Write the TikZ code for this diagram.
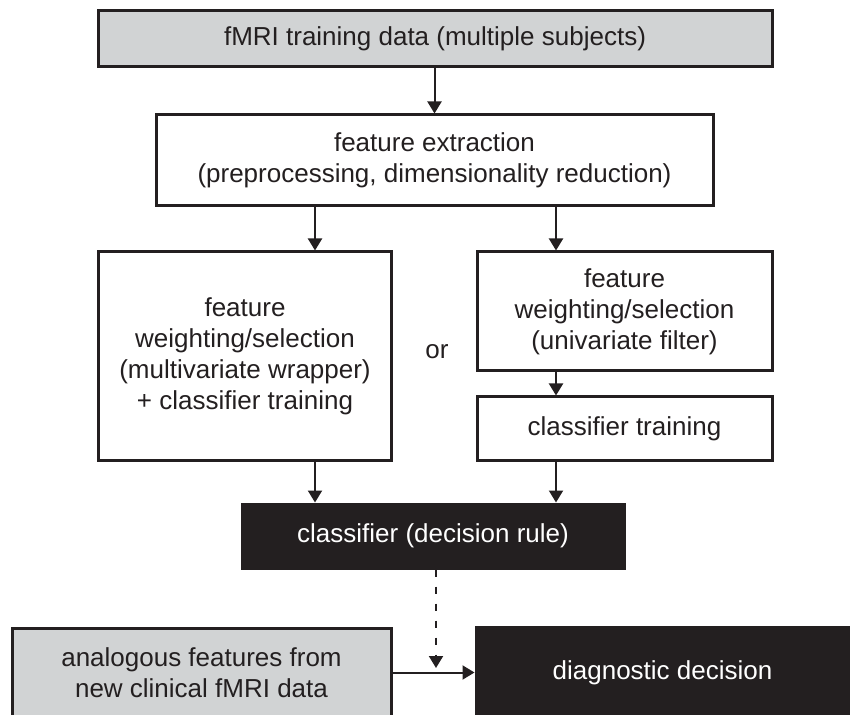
\documentclass[tikz,border=0pt]{standalone}
\usepackage{fontspec}
\setmainfont{Liberation Sans}
\usepackage{tikz}
\usetikzlibrary{arrows.meta,calc}
\definecolor{ink}{HTML}{231F20}
\definecolor{panelgray}{HTML}{D1D3D4}
\tikzset{>={Triangle[length=6pt,width=7pt]}}
\tikzset{box/.style={draw=ink,line width=1.5pt,fill=white,align=center,inner sep=0pt,text=ink},
  graybox/.style={box,fill=panelgray},
  blackbox/.style={box,fill=ink,text=white},
  flow/.style={draw=ink,line width=1pt,->}}

\begin{document}
\begin{tikzpicture}[x=0.5pt,y=-0.5pt,font=\fontsize{13}{15.5}\selectfont]
    \clip (0,0) rectangle (850,715);
    \node[graybox,minimum width=337pt,minimum height=28pt] (data) at (435,39) {fMRI training data (multiple subjects)};
    \node[box,minimum width=278.5pt,minimum height=45.5pt] (extract) at (434.5,160.5) {feature extraction\\(preprocessing, dimensionality reduction)};
    \node[box,minimum width=146.5pt,minimum height=104pt] (wrapper) at (245,356) {feature\\weighting/selection\\(multivariate wrapper)\\+ classifier training};
    \node[box,minimum width=147.5pt,minimum height=59.5pt] (filter) at (624.5,311.5) {feature\\weighting/selection\\(univariate filter)};
    \node[box,minimum width=147.5pt,minimum height=31.5pt] (train) at (624.5,428.5) {classifier training};
    \node[text=ink] (or) at (437,352) {or};
    \node[blackbox,minimum width=191pt,minimum height=32pt] (rule) at (433,536) {classifier (decision rule)};
    \node[graybox,minimum width=189.5pt,minimum height=44.5pt] (newdata) at (201.5,672.5) {analogous features from\\new clinical fMRI data};
    \node[blackbox,minimum width=186.5pt,minimum height=45.5pt] (decision) at (662.5,672.5) {diagnostic decision};
    \coordinate (l) at (315,0);
    \coordinate (r) at (556,0);
    \coordinate (hit) at (436,668);
    \draw[flow] (data.south -| extract.north) -- (extract.north);
    \draw[flow] (extract.south -| l) -- (wrapper.north -| l);
    \draw[flow] (extract.south -| r) -- (filter.north -| r);
    \draw[flow] (filter.south -| r) -- (train.north -| r);
    \draw[flow] (wrapper.south -| l) -- (rule.north -| l);
    \draw[flow] (train.south -| r) -- (rule.north -| r);
    \draw[flow,dash pattern=on 3.5pt off 5pt] (rule.south -| hit) -- (hit);
    \draw[flow] (newdata.east) -- (decision.west);
\end{tikzpicture}
\end{document}
